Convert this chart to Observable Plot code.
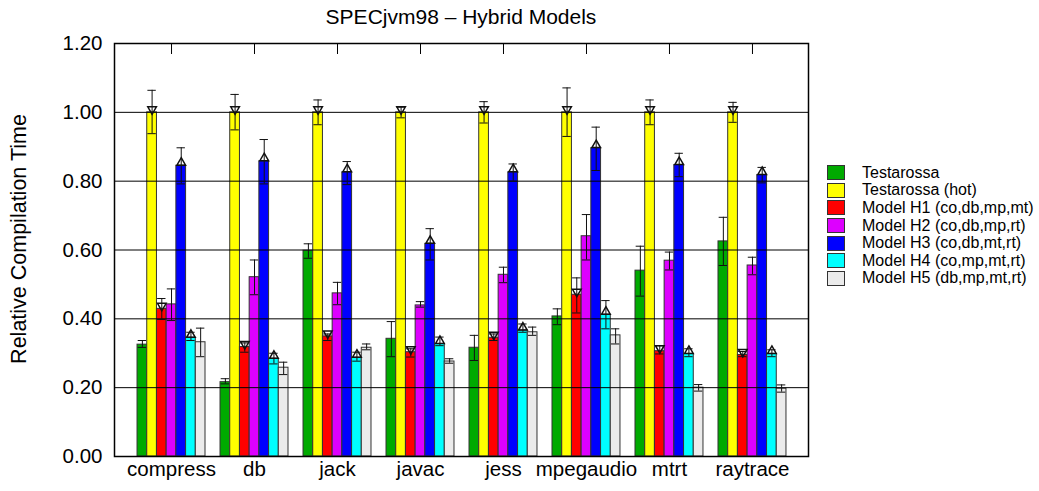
<!DOCTYPE html>
<html><head><meta charset="utf-8">
<script src="https://cdn.jsdelivr.net/npm/d3@7"></script>
<script src="https://cdn.jsdelivr.net/npm/@observablehq/plot@0.6"></script>
<style>
body{margin:0;background:#fff;font-family:"Liberation Sans",Arial,sans-serif;}
#wrap{position:relative;width:1039px;height:491px;}
#title{position:absolute;top:5px;left:114px;width:694px;text-align:center;font-size:21px;color:#000;}
#ylab{position:absolute;left:19px;top:239px;transform:translate(-50%,-50%) rotate(-90deg);white-space:nowrap;font-size:21.5px;color:#000;}
#legend{position:absolute;left:827px;top:164px;font-size:16px;color:#000;}
.row{display:flex;align-items:center;height:17.6px;}
.sw{width:18px;height:15px;border:1px solid #333;box-sizing:border-box;margin-right:17px;}
#chart{position:absolute;left:0;top:0;}
</style></head><body>
<div id="wrap"><div id="chart"></div><div id="title">SPECjvm98 – Hybrid Models</div><div id="ylab">Relative Compilation Time</div><div id="legend"></div></div>
<script>
const benchmarks = ["compress","db","jack","javac","jess","mpegaudio","mtrt","raytrace"];
const seriesNames = ["Testarossa","Testarossa (hot)","Model H1 (co,db,mp,mt)","Model H2 (co,db,mp,rt)","Model H3 (co,db,mt,rt)","Model H4 (co,mp,mt,rt)","Model H5 (db,mp,mt,rt)"];
const seriesColors = ["#00aa00","#ffff00","#ff0000","#dd00ff","#0000ff","#00ffff","#ebebeb"];
const yTicks = [0,0.2,0.4,0.6,0.8,1.0,1.2];

const testarossa    = [0.325,0.216,0.598,0.342,0.316,0.407,0.540,0.625];
const testarossaLo  = [0.317,0.211,0.576,0.290,0.279,0.383,0.466,0.555];
const testarossaHi  = [0.337,0.226,0.618,0.392,0.352,0.429,0.611,0.695];
const hot    = [1,1,1,1,1,1,1,1];
const hotLo  = [0.938,0.949,0.964,0.984,0.969,0.930,0.964,0.971];
const hotHi  = [1.064,1.052,1.036,1.015,1.031,1.071,1.036,1.029];
const h1    = [0.429,0.318,0.349,0.303,0.345,0.470,0.306,0.295];
const h1Lo  = [0.398,0.303,0.337,0.289,0.337,0.417,0.298,0.290];
const h1Hi  = [0.459,0.330,0.356,0.313,0.356,0.519,0.322,0.305];
const h2    = [0.442,0.521,0.474,0.439,0.528,0.640,0.569,0.555];
const h2Lo  = [0.395,0.470,0.441,0.434,0.505,0.571,0.542,0.528];
const h2Hi  = [0.487,0.571,0.506,0.450,0.550,0.703,0.594,0.579];
const h3    = [0.845,0.858,0.826,0.618,0.826,0.896,0.847,0.818];
const h3Lo  = [0.792,0.792,0.790,0.571,0.800,0.831,0.813,0.795];
const h3Hi  = [0.897,0.921,0.857,0.662,0.850,0.957,0.881,0.840];
const h4    = [0.345,0.284,0.287,0.327,0.366,0.412,0.298,0.298];
const h4Lo  = [0.337,0.269,0.277,0.322,0.361,0.371,0.290,0.290];
const h4Hi  = [0.361,0.300,0.303,0.347,0.385,0.453,0.313,0.310];
const h5    = [0.332,0.258,0.316,0.276,0.361,0.352,0.200,0.197];
const h5Lo  = [0.290,0.238,0.310,0.271,0.352,0.327,0.190,0.187];
const h5Hi  = [0.373,0.274,0.327,0.284,0.376,0.371,0.209,0.208];

const means = [testarossa,hot,h1,h2,h3,h4,h5];
const lows = [testarossaLo,hotLo,h1Lo,h2Lo,h3Lo,h4Lo,h5Lo];
const highs = [testarossaHi,hotHi,h1Hi,h2Hi,h3Hi,h4Hi,h5Hi];

const W = 0.117; // bar width in group units
const rows = [];
seriesNames.forEach((name, s) => {
  benchmarks.forEach((b, i) => {
    const x1 = i + (s - 3.5) * W;
    rows.push({name, s, i, x1, x2: x1 + W, cx: x1 + W/2, v: means[s][i], lo: lows[s][i], hi: highs[s][i]});
  });
});

const chart = Plot.plot({
  width: 1039, height: 491,
  marginLeft: 114, marginRight: 231, marginTop: 43, marginBottom: 35,
  x: {type: "linear", domain: [-0.687, 7.675]},
  y: {domain: [0, 1.2]},
  color: {domain: seriesNames, range: seriesColors},
  style: {fontFamily: "'Liberation Sans', Arial, sans-serif", fontSize: "20.5px", color: "#000", background: "transparent"},
  marks: [
    Plot.rectY(rows, {x1: "x1", x2: "x2", y1: 0, y2: "v", fill: "name", stroke: "#333", strokeWidth: 1}),
    Plot.ruleY([0.2,0.4,0.6,0.8,1.0], {stroke: "#000", strokeWidth: 1}),
    Plot.ruleX(rows, {x: "cx", y1: "lo", y2: "hi", stroke: "#111", strokeWidth: 1}),
    Plot.ruleY(rows, {y: "hi", x1: d => d.x1 + 0.008, x2: d => d.x2 - 0.008, stroke: "#111", strokeWidth: 1}),
    Plot.ruleY(rows, {y: "lo", x1: d => d.x1 + 0.008, x2: d => d.x2 - 0.008, stroke: "#111", strokeWidth: 1}),
    Plot.dot(rows.filter(d => d.s === 1 || d.s === 2), {x: "cx", y: "v", symbol: "triangle", rotate: 180, r: 3.2, dy: -3, stroke: "#111", fill: "none"}),
    Plot.dot(rows.filter(d => d.s === 4 || d.s === 5), {x: "cx", y: "v", symbol: "triangle", r: 3.2, dy: -3, stroke: "#111", fill: "none"}),
    Plot.ruleX(d3.range(benchmarks.length), {x: d => d, y1: 1.2, y2: 1.168, stroke: "#000"}),
    Plot.axisY(yTicks, {tickFormat: d3.format(".2f"), tickSize: 0, tickPadding: 12, label: null}),
    Plot.axisX(d3.range(benchmarks.length), {tickFormat: i => benchmarks[i], tickSize: 0, tickPadding: 5, label: null}),
    Plot.frame({stroke: "#000", strokeWidth: 1.5})
  ]
});
document.getElementById("chart").appendChild(chart);

const legend = document.getElementById("legend");
seriesNames.forEach((name, s) => {
  const row = document.createElement("div");
  row.className = "row";
  const sw = document.createElement("div");
  sw.className = "sw";
  sw.style.background = seriesColors[s];
  const t = document.createElement("span");
  t.textContent = name;
  row.appendChild(sw); row.appendChild(t);
  legend.appendChild(row);
});
</script>
</body></html>
